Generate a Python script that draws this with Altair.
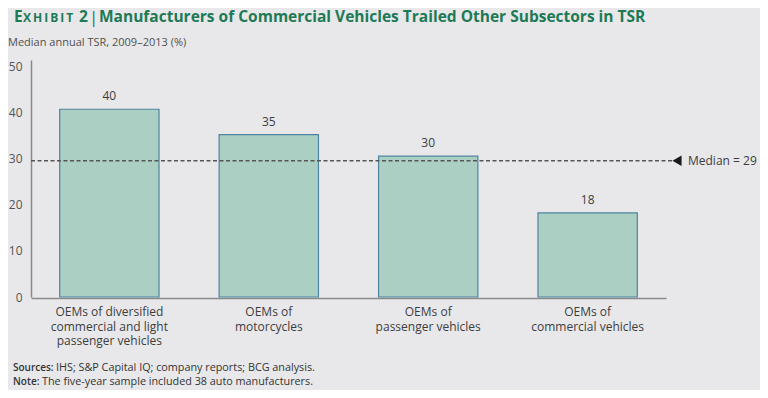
import altair as alt
import pandas as pd

categories = [
    "OEMs of diversified\ncommercial and light\npassenger vehicles",
    "OEMs of\nmotorcycles",
    "OEMs of\npassenger vehicles",
    "OEMs of\ncommercial vehicles",
]
tsr_values = [40.8, 35.3, 30.6, 18.3]
tsr_labels = ["40", "35", "30", "18"]
median_value = [29.6]
median_label = ["Median = 29"]
y_ticks = [0, 10, 20, 30, 40, 50]

df = pd.DataFrame({"cat": categories, "val": tsr_values, "lab": tsr_labels})
med = pd.DataFrame({"m": median_value, "lab": median_label})

W, H = 635, 237
FONT = "Open Sans"
GREEN = "#1d7a55"
TXT = "#3d3d3d"

xscale = alt.Scale(domain=categories, paddingInner=0.377, paddingOuter=0.18)
yscale = alt.Scale(domain=[0, 51.5], nice=False)

base = alt.Chart(df)

bars = base.mark_bar(color="#abcfc3", stroke="#4f84a0", strokeWidth=1.2).encode(
    x=alt.X("cat:N", scale=xscale, sort=categories,
            axis=alt.Axis(title=None, labels=False, ticks=False, domainColor="#8a8a8a",
                          domainWidth=1.5, offset=1)),
    y=alt.Y("val:Q", scale=yscale,
            axis=alt.Axis(title=None, values=y_ticks, ticks=False, grid=False,
                          domainColor="#8a8a8a", domainWidth=1.5, labelPadding=9,
                          labelFont=FONT, labelFontSize=12, labelColor="#555555")),
)

bar_text = base.mark_text(font=FONT, fontSize=12, color=TXT, dy=-13).encode(
    x=alt.X("cat:N", scale=xscale, sort=categories),
    y=alt.Y("val:Q", scale=yscale),
    text="lab:N",
)

cat_text = base.mark_text(font=FONT, fontSize=12, color=TXT, lineBreak="\n",
                          baseline="top", lineHeight=14.5, align="center").encode(
    x=alt.X("cat:N", scale=xscale, sort=categories),
    y=alt.value(H + 10),
    text="cat:N",
)

mbase = alt.Chart(med)
med_rule = mbase.mark_rule(color="#555555", strokeDash=[4, 2.5], strokeWidth=1.5).encode(
    y=alt.Y("m:Q", scale=yscale), x=alt.value(0), x2=alt.value(642)
)
med_tri = mbase.mark_point(shape="triangle-left", filled=True, color="#1a1a1a",
                           size=110, opacity=1).encode(
    y=alt.Y("m:Q", scale=yscale), x=alt.value(646)
)
med_text = mbase.mark_text(font=FONT, fontSize=12, color=TXT, align="left").encode(
    y=alt.Y("m:Q", scale=yscale), x=alt.value(657), text="lab:N"
)


def label(text, x, y, size, weight="normal", color=TXT, font=FONT):
    return alt.Chart(pd.DataFrame({"t": [text]})).mark_text(
        font=font, fontSize=size, fontWeight=weight, color=color,
        align="left", baseline="alphabetic"
    ).encode(x=alt.value(x), y=alt.value(y), text="t:N")


title_y = -38.5
titles = [
    label("E", -17, title_y, 15.5, "bold", GREEN),
    label("X\u2009H\u2009I\u2009B\u2009I\u2009T", -8, title_y, 12, "bold", GREEN),
    label("2", 48, title_y, 15.5, "bold", GREEN),
    label("|", 58, title_y + 1, 17, "normal", GREEN),
    label("Manufacturers of Commercial Vehicles Trailed Other Subsectors in TSR",
          68, title_y, 15.5, "bold", GREEN),
    label("Median annual TSR, 2009–2013 (%)", -23, -14, 11, "normal", "#505050"),
    label("Sources:", -18, 311, 10, 600, "#333333"),
    label("IHS; S&P Capital IQ; company reports; BCG analysis.", 25, 311, 10.8, "normal", "#333333"),
    label("Note:", -18, 325, 10, 600, "#333333"),
    label("The five-year sample included 38 auto manufacturers.", 11, 325, 10.8, "normal", "#333333"),
]

chart = alt.layer(bars, bar_text, cat_text, med_rule, med_tri, med_text, *titles).properties(
    width=W, height=H,
    autosize=alt.AutoSizeParams(type="none"),
    padding={"left": 23, "top": 52, "right": 94, "bottom": 93},
    background="#e8e8ea",
).configure_view(stroke=None)

chart.save("out.html", embed_options={"renderer": "svg", "actions": False})
